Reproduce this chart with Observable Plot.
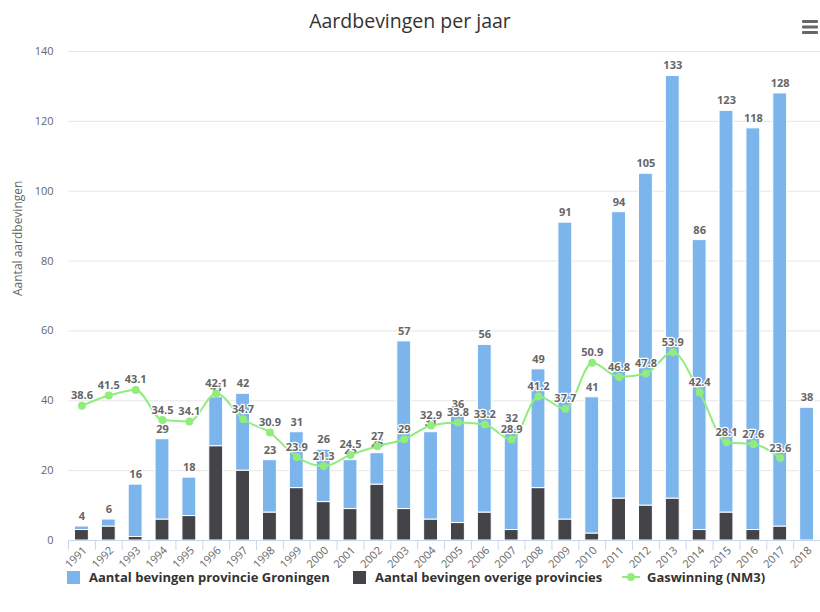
<!DOCTYPE html>
<html>
<head>
<meta charset="utf-8">
<script src="https://cdn.jsdelivr.net/npm/d3@7"></script>
<script src="https://cdn.jsdelivr.net/npm/@observablehq/plot@0.6"></script>
<style>
  body { margin: 0; background: #fff; font-family: "Open Sans", "Liberation Sans", Arial, sans-serif; }
  #wrap { position: relative; width: 820px; height: 612px; overflow: hidden; }
  #title { position: absolute; top: 7px; left: 0; width: 820px; text-align: center; font-size: 19.5px; color: #333; }
  #menu { position: absolute; left: 801px; top: 19px; }
  #chart { position: absolute; top: 40px; left: 0; width: 820px; }
  .leg { position: absolute; top: 569px; font-size: 13px; font-weight: bold; color: #333; display: flex; align-items: center; height: 16px; white-space: nowrap; }
  .sw { width: 13px; height: 13px; margin-right: 9px; }
</style>
</head>
<body>
<div id="wrap">
  <div id="title">Aardbevingen per jaar</div>
  <svg id="menu" width="18" height="16"><rect x="1" y="1" width="16" height="3" rx="1" fill="#666"/><rect x="1" y="6.5" width="16" height="3" rx="1" fill="#666"/><rect x="1" y="12" width="16" height="3" rx="1" fill="#666"/></svg>
  <div id="chart"></div>
  <div class="leg" style="left:67px"><div class="sw" style="background:#7cb5ec"></div>Aantal bevingen provincie Groningen</div>
  <div class="leg" style="left:353px"><div class="sw" style="background:#434348"></div>Aantal bevingen overige provincies</div>
  <div class="leg" style="left:622px"><svg width="18" height="12" style="margin-right:7px"><line x1="0" y1="6" x2="18" y2="6" stroke="#90ed7d" stroke-width="2"/><circle cx="9" cy="6" r="4" fill="#90ed7d"/></svg>Gaswinning (NM3)</div>
</div>
<script>
const years = ["1991","1992","1993","1994","1995","1996","1997","1998","1999","2000","2001","2002","2003","2004","2005","2006","2007","2008","2009","2010","2011","2012","2013","2014","2015","2016","2017","2018"];
const groningen = [1,2,15,23,11,14,22,15,16,15,14,9,48,25,31,48,29,34,85,39,82,95,121,83,115,115,124,38];
const overige = [3,4,1,6,7,27,20,8,15,11,9,16,9,6,5,8,3,15,6,2,12,10,12,3,8,3,4,0];
const gaswinning = [38.6,41.5,43.1,34.5,34.1,42.1,34.7,30.9,23.9,21.3,24.5,27,29,32.9,33.8,33.2,28.9,41.2,37.7,50.9,46.8,47.8,53.9,42.4,28.1,27.6,23.6,null];
const yTicks = [0,20,40,60,80,100,120,140];

const S_GRON = "Aantal bevingen provincie Groningen";
const S_OVER = "Aantal bevingen overige provincies";

const rows = [];
years.forEach((y, i) => {
  rows.push({year: y, series: S_OVER, value: overige[i]});
  rows.push({year: y, series: S_GRON, value: groningen[i]});
});
const totals = years.map((y, i) => ({year: y, total: groningen[i] + overige[i]}));
const gas = years.map((y, i) => ({year: y, gas: gaswinning[i]})).filter(d => d.gas != null);

const W = 820, H = 530, ML = 68, MR = 0, MT = 11, MB = 30;
const bw = (W - ML - MR) / years.length;
const pxPerUnit = (H - MT - MB) / 140;

const labelStyle = {fill: "#666", stroke: "white", strokeWidth: 2.5, paintOrder: "stroke", fontWeight: "bold", fontSize: 11};

const chart = Plot.plot({
  width: W, height: H,
  marginLeft: ML, marginRight: MR, marginTop: MT, marginBottom: MB,
  style: {fontFamily: "'Open Sans', 'Liberation Sans', Arial, sans-serif", background: "white", overflow: "visible"},
  x: {type: "band", domain: years, padding: 0, round: false, axis: null},
  y: {domain: [0, 140], axis: null},
  color: {domain: [S_GRON, S_OVER], range: ["#7cb5ec", "#434348"]},
  marks: [
    Plot.gridY(yTicks, {stroke: "#e6e6e6", strokeOpacity: 1}),
    Plot.axisY(yTicks, {tickSize: 0, tickPadding: 15, fill: "#666", fontSize: 11, label: null}),
    Plot.text(["Aantal aardbevingen"], {frameAnchor: "left", rotate: -90, dx: -50, fill: "#666", fontSize: 12}),
    Plot.barY(rows, {x: "year", y: "value", fill: "series", stroke: "white", strokeWidth: 1, insetLeft: 6.5, insetRight: 6.5}),
    Plot.ruleY([0], {stroke: "#ccd6eb"}),
    Plot.ruleX(years, {x: d => d, y1: 0, y2: -10 / pxPerUnit, stroke: "#ccd6eb", dx: -bw / 2}),
    Plot.axisX(years, {tickSize: 0, tickPadding: 8, tickRotate: -45, fill: "#666", fontSize: 11, label: null, dx: 3}),
    Plot.text(totals, {x: "year", y: "total", text: d => String(d.total), dy: -10, ...labelStyle}),
    Plot.line(gas, {x: "year", y: "gas", stroke: "#90ed7d", strokeWidth: 2, curve: "monotone-x"}),
    Plot.dot(gas, {x: "year", y: "gas", r: 4, fill: "#90ed7d"}),
    Plot.text(gas, {x: "year", y: "gas", text: d => String(d.gas), dy: -10, ...labelStyle})
  ]
});
document.getElementById("chart").appendChild(chart);
</script>
</body>
</html>
